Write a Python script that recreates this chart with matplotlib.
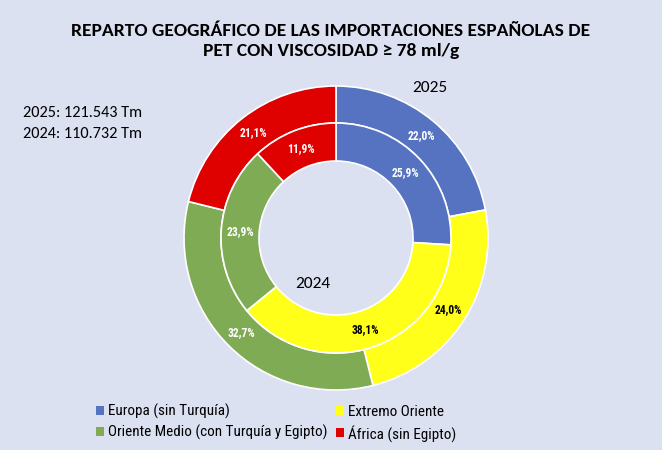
import matplotlib
matplotlib.use("Agg")
import matplotlib.pyplot as plt
from matplotlib.patches import Patch

categories = ["Europa (sin Turquía)", "Extremo Oriente",
              "Oriente Medio (con Turquía y Egipto)", "África (sin Egipto)"]
values_2025 = [22.0, 24.0, 32.7, 21.1]
values_2024 = [25.9, 38.1, 23.9, 11.9]
labels_2025 = ["22,0%", "24,0%", "32,7%", "21,1%"]
labels_2024 = ["25,9%", "38,1%", "23,9%", "11,9%"]
colors = ["#5673C2", "#FFFF1A", "#7FAB55", "#DF0000"]
label_colors = ["white", "black", "white", "white"]

bg = "#DCE1F2"
narrow = ["Roboto Condensed", "Archivo Narrow", "DejaVu Sans"]
calibri = ["Carlito", "Lato", "DejaVu Sans"]

fig = plt.figure(figsize=(6.62, 4.5), dpi=100)
fig.patch.set_facecolor(bg)

W, H = 662, 450
cx, cy, R = 336, 450 - 238, 152
half = 165
ax = fig.add_axes([(cx - half) / W, (cy - half) / H, 2 * half / W, 2 * half / H])
ax.set_facecolor(bg)
lim = half / R
ax.axis("off")

r_out, r_mid, r_in = 1.0, 115 / 152, 77 / 152
wp = dict(edgecolor="white", linewidth=1.2)

w_out, t_out = ax.pie(values_2025, radius=r_out, colors=colors, startangle=90,
                      counterclock=False, wedgeprops=dict(width=r_out - r_mid, **wp),
                      labels=labels_2025, labeldistance=(r_out + r_mid) / 2 / r_out)
w_in, t_in = ax.pie(values_2024, radius=r_mid, colors=colors, startangle=90,
                    counterclock=False, wedgeprops=dict(width=r_mid - r_in, **wp),
                    labels=labels_2024, labeldistance=(r_mid + r_in) / 2 / r_mid)
ax.set_xlim(-lim, lim)
ax.set_ylim(-lim, lim)
ax.set_aspect("equal")
for txts in (t_out, t_in):
    for t, c in zip(txts, label_colors):
        t.set_color(c)
        t.set_fontsize(8.3)
        t.set_fontweight("bold")
        t.set_family(narrow)
        t.set_ha("center")
        t.set_va("center")

fig.text(430 / W, 1 - 88 / H, "2025", fontsize=12.5, family=calibri,
         ha="center", va="center", color="black")
fig.text(313 / W, 1 - 284 / H, "2024", fontsize=12.5, family=calibri,
         ha="center", va="center", color="black")

fig.text(331 / W, 1 - 41 / H,
         "REPARTO GEOGRÁFICO DE LAS IMPORTACIONES ESPAÑOLAS DE\nPET CON VISCOSIDAD ≥ 78 ml/g",
         fontsize=14, fontweight="bold", family=calibri,
         ha="center", va="center", linespacing=1.38)

fig.text(23 / W, 1 - 113 / H, "2025: 121.543 Tm", fontsize=11.7,
         family=calibri, ha="left", va="center")
fig.text(23 / W, 1 - 134 / H, "2024: 110.732 Tm", fontsize=11.7,
         family=calibri, ha="left", va="center")

# legend filled column by column, so reorder to read row by row
order = [0, 2, 1, 3]
handles = [Patch(facecolor=colors[i], edgecolor="none") for i in order]
leg_labels = [categories[i] for i in order]
leg = fig.legend(handles, leg_labels, ncol=2, loc="upper left",
                 bbox_to_anchor=(82 / W, 1 - 390 / H), frameon=False,
                 handlelength=0.55, handleheight=0.55, handletextpad=0.3,
                 columnspacing=0.5, labelspacing=0.4,
                 prop=dict(family=narrow, size=10.9))

fig.savefig("out.png", dpi=100, facecolor=bg)
